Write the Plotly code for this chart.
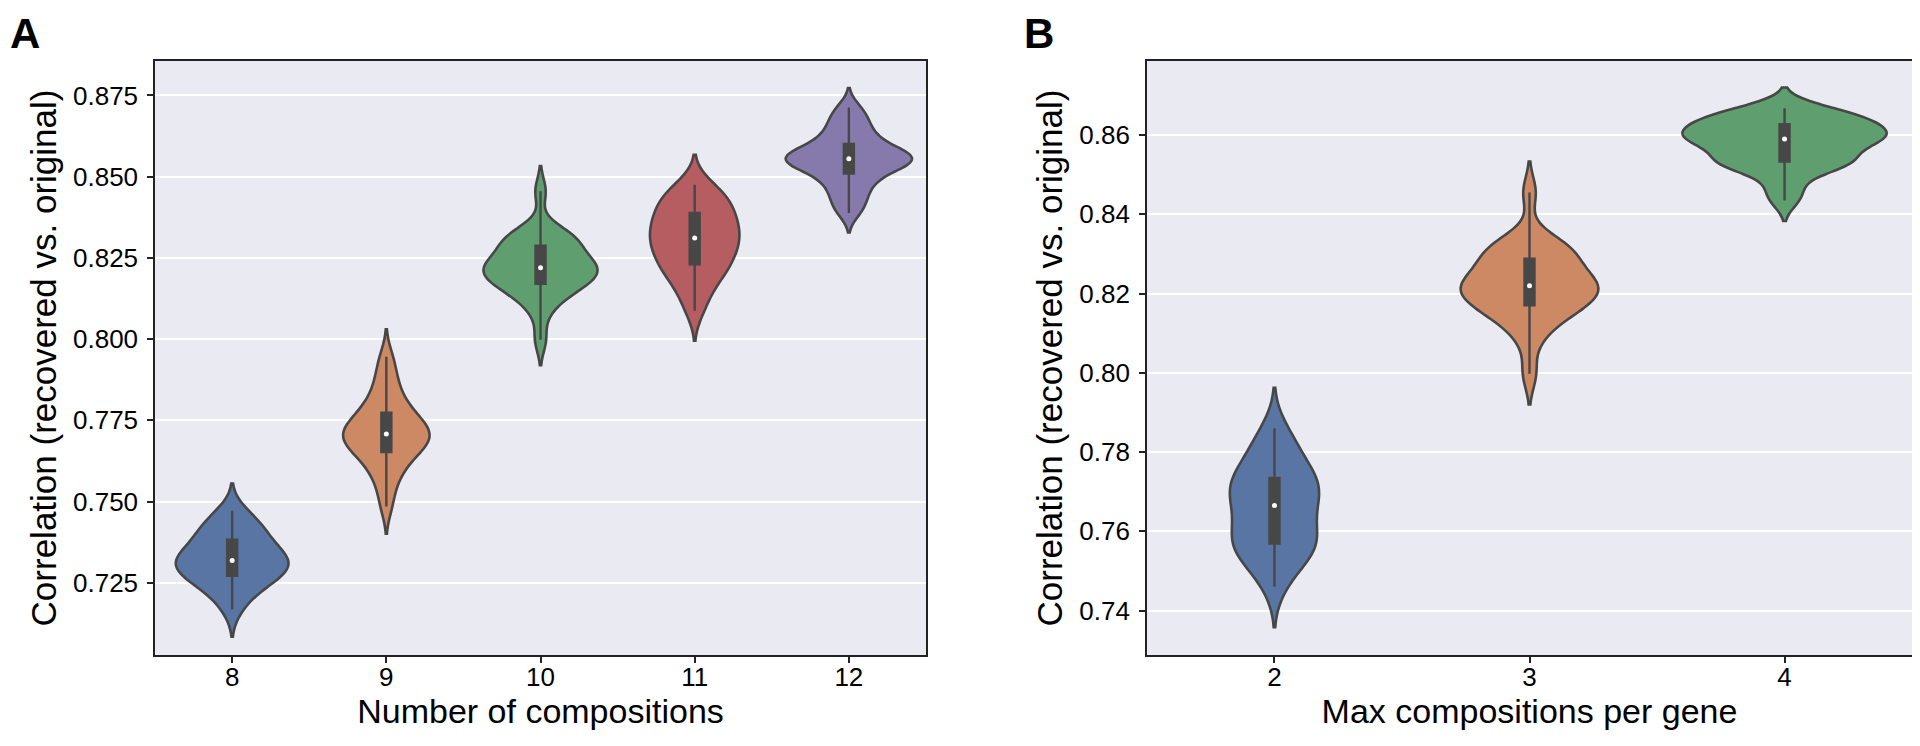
import numpy as np
import plotly.graph_objects as go
from plotly.subplots import make_subplots

# --- panel A: correlation vs number of compositions ---
n_comp_labels = ["8", "9", "10", "11", "12"]
corr_n8 = [0.7168, 0.7205, 0.7228, 0.7245, 0.7256, 0.7266, 0.7274, 0.7283, 0.7292,
           0.7300, 0.7307, 0.7313, 0.7319, 0.7326, 0.7333, 0.7342, 0.7352, 0.7365,
           0.7380, 0.7392, 0.7405, 0.7418, 0.7432, 0.7450, 0.7472]
corr_n9 = [0.7485, 0.7543, 0.7579, 0.7606, 0.7626, 0.7642, 0.7656, 0.7667, 0.7677,
           0.7686, 0.7694, 0.7701, 0.7708, 0.7716, 0.7725, 0.7734, 0.7745, 0.7757,
           0.7770, 0.7786, 0.7805, 0.7829, 0.7861, 0.7898, 0.7946]
corr_n10 = [0.7998, 0.8083, 0.8120, 0.8140, 0.8155, 0.8165, 0.8172, 0.8182, 0.8192,
            0.8201, 0.8208, 0.8214, 0.8220, 0.8226, 0.8233, 0.8242, 0.8252, 0.8266,
            0.8285, 0.8296, 0.8305, 0.8315, 0.8325, 0.8334, 0.8455]
corr_n11 = [0.8087, 0.8130, 0.8165, 0.8190, 0.8206, 0.8220, 0.8234, 0.8249, 0.8263,
            0.8277, 0.8290, 0.8301, 0.8311, 0.8322, 0.8334, 0.8347, 0.8360, 0.8372,
            0.8385, 0.8399, 0.8413, 0.8428, 0.8443, 0.8458, 0.8475]
corr_n12 = [0.8388, 0.8415, 0.8440, 0.8462, 0.8482, 0.8499, 0.8513, 0.8524, 0.8533,
            0.8540, 0.8546, 0.8551, 0.8555, 0.8559, 0.8564, 0.8570, 0.8577, 0.8586,
            0.8597, 0.8611, 0.8627, 0.8645, 0.8665, 0.8688, 0.8713]

# --- panel B: correlation vs max compositions per gene ---
max_comp_labels = ["2", "3", "4"]
corr_max2 = [0.7460, 0.7500, 0.7525, 0.7542, 0.7553, 0.7563, 0.7571, 0.7582, 0.7595,
             0.7610, 0.7628, 0.7648, 0.7665, 0.7678, 0.7690, 0.7702, 0.7712, 0.7722,
             0.7731, 0.7745, 0.7762, 0.7782, 0.7805, 0.7830, 0.7860]
corr_max3 = [0.7998, 0.8083, 0.8120, 0.8140, 0.8155, 0.8165, 0.8172, 0.8182, 0.8192,
             0.8201, 0.8208, 0.8214, 0.8220, 0.8226, 0.8233, 0.8242, 0.8252, 0.8266,
             0.8285, 0.8296, 0.8305, 0.8315, 0.8325, 0.8334, 0.8455]
corr_max4 = [0.8435, 0.8468, 0.8505, 0.8522, 0.8528, 0.8531, 0.8534, 0.8545, 0.8560,
             0.8572, 0.8580, 0.8586, 0.8590, 0.8595, 0.8600, 0.8604, 0.8609, 0.8617,
             0.8626, 0.8632, 0.8638, 0.8645, 0.8652, 0.8660, 0.8668]

# seaborn "deep" palette, desaturated like violinplot does
colors_a = ["#5875A4", "#CC8963", "#5F9E6E", "#B55D60", "#857AAB"]
colors_b = ["#5875A4", "#CC8963", "#5F9E6E"]
# kde bandwidth and drawn violin width (category units) per violin
bw_a = [0.0042, 0.0042, 0.0039, 0.0046, 0.0030]
bw_b = [0.0051, 0.0039, 0.0026]
width_a = [0.73, 0.56, 0.74, 0.58, 0.82]
width_b = [0.35, 0.54, 0.80]

EDGE = "#474747"
FONT = "Liberation Sans, Arial, sans-serif"
BOX_PX = 10

fig = make_subplots(rows=1, cols=2)


def add_violins(labels, samples, colors, bws, widths, col, px_per_unit):
    for lab, vals, c, bw, w in zip(labels, samples, colors, bws, widths):
        fig.add_trace(go.Violin(
            x=[lab] * len(vals), y=vals,
            fillcolor=c, opacity=1,
            line=dict(color=EDGE, width=2.6),
            width=w, scalemode="width", scalegroup="p%d_%s" % (col, lab),
            bandwidth=bw, spanmode="soft", points=False,
            box=dict(visible=True, width=BOX_PX / (w * px_per_unit), fillcolor=EDGE,
                     line=dict(color=EDGE, width=2.4)),
            meanline=dict(visible=False),
            hoverinfo="skip", showlegend=False,
        ), row=1, col=col)
        # white median dot like seaborn's inner box
        fig.add_trace(go.Scatter(
            x=[lab], y=[np.median(vals)], mode="markers",
            marker=dict(color="white", size=5, line=dict(width=0)),
            hoverinfo="skip", showlegend=False,
        ), row=1, col=col)


add_violins(n_comp_labels, [corr_n8, corr_n9, corr_n10, corr_n11, corr_n12],
            colors_a, bw_a, width_a, 1, 154)
add_violins(max_comp_labels, [corr_max2, corr_max3, corr_max4],
            colors_b, bw_b, width_b, 2, 255)

axis_common = dict(
    showline=True, mirror=True, linecolor="#222222", linewidth=1.6,
    ticks="outside", ticklen=6, tickwidth=1.6, tickcolor="#222222",
    tickfont=dict(family=FONT, size=26, color="black"),
    zeroline=False,
)
xtitle_font = dict(family=FONT, size=34, color="black")
ytitle_font = dict(family=FONT, size=35, color="black")

fig.update_xaxes(axis_common, type="category", showgrid=False, ticklabelstandoff=-8)
fig.update_yaxes(axis_common, showgrid=True, gridcolor="white", gridwidth=1.8,
                 ticklabelstandoff=4)

fig.update_xaxes(domain=[0.0766, 0.4781], range=[-0.5, 4.5],
                 title=dict(text="Number of compositions", standoff=6, font=xtitle_font),
                 row=1, col=1)
fig.update_xaxes(domain=[0.5932, 0.9917], range=[-0.5, 2.5],
                 title=dict(text="Max compositions per gene", standoff=6, font=xtitle_font),
                 row=1, col=2)
fig.update_yaxes(range=[0.7028, 0.8856], tickvals=[0.725, 0.75, 0.775, 0.8, 0.825, 0.85, 0.875],
                 tickformat=".3f",
                 title=dict(text="Correlation (recovered vs. original)", standoff=6,
                            font=ytitle_font),
                 row=1, col=1)
fig.update_yaxes(range=[0.7288, 0.8787], tickvals=[0.74, 0.76, 0.78, 0.8, 0.82, 0.84, 0.86],
                 tickformat=".2f",
                 title=dict(text="Correlation (recovered vs. original)", standoff=6,
                            font=ytitle_font),
                 row=1, col=2)

# panel letters
for letter, xpos in [("A", 0.0), ("B", 0.528)]:
    fig.add_annotation(text="<b>%s</b>" % letter, xref="paper", yref="paper",
                       x=xpos, y=1.0, xanchor="left", yanchor="top",
                       showarrow=False,
                       font=dict(family=FONT, size=42, color="black"))

fig.update_layout(
    width=1920, height=746,
    margin=dict(l=0, r=0, t=0, b=0),
    paper_bgcolor="white", plot_bgcolor="#EAEAF2",
    violinmode="overlay",
)
fig.update_yaxes(domain=[0.1327, 0.9290])

fig.write_html("out.html")
